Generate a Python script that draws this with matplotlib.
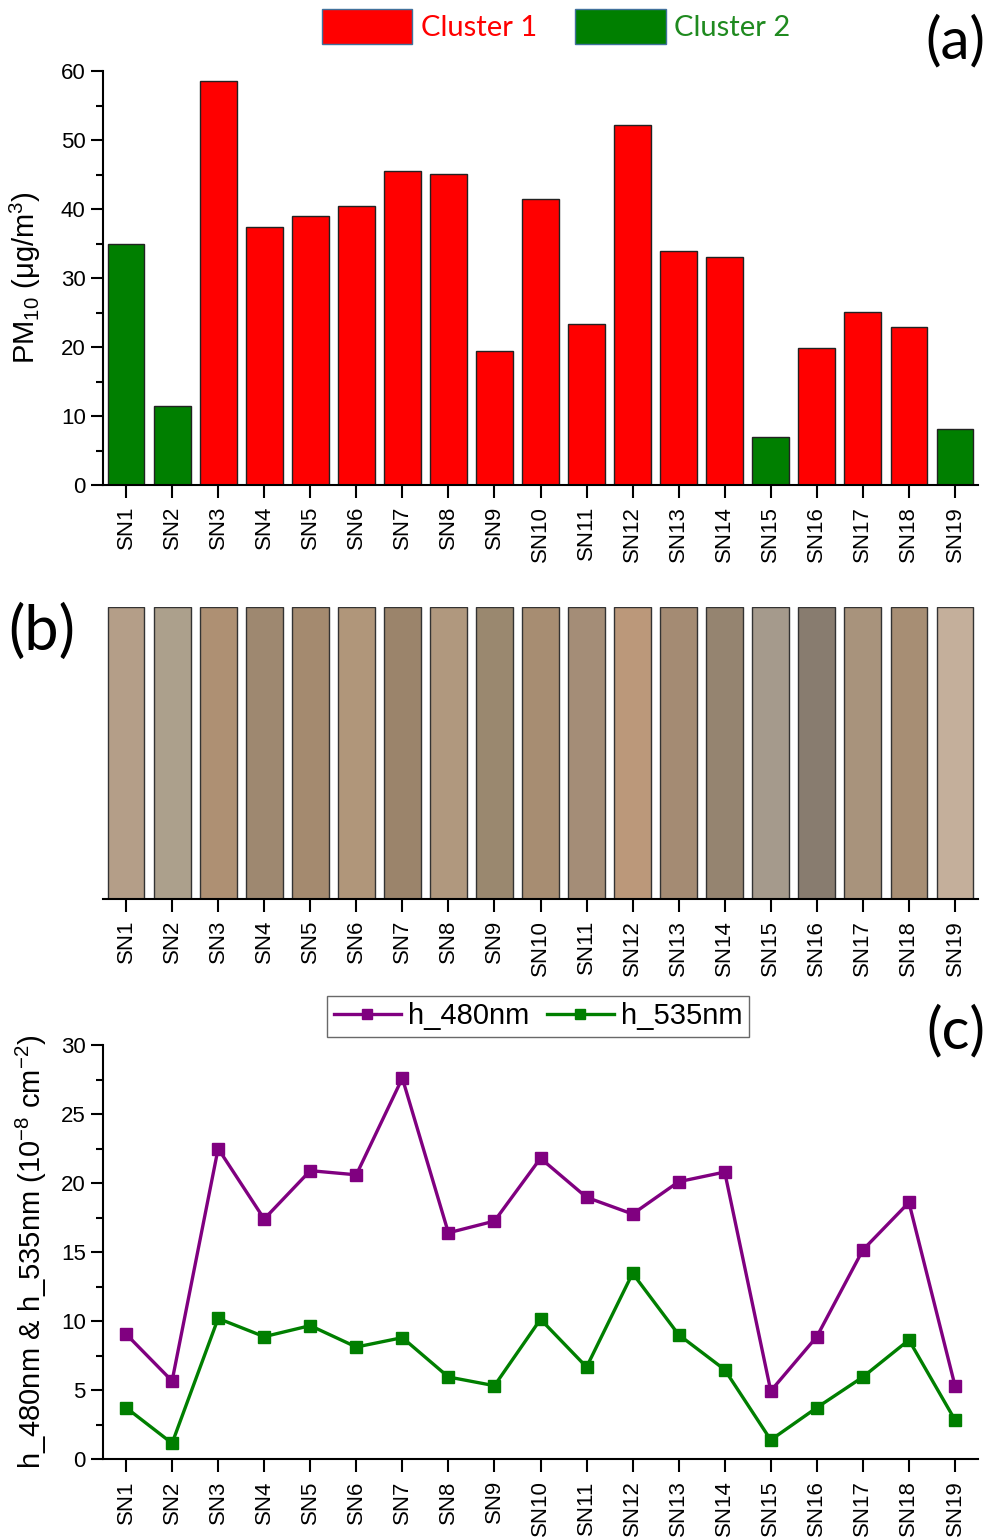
import matplotlib
matplotlib.use("Agg")
import matplotlib.pyplot as plt
from matplotlib.patches import Patch
from matplotlib.lines import Line2D
from matplotlib.ticker import MultipleLocator
import numpy as np

plt.rcParams['font.family'] = ['Liberation Sans', 'DejaVu Sans']
plt.rcParams['mathtext.fontset'] = 'custom'
plt.rcParams['mathtext.rm'] = 'Liberation Sans'
plt.rcParams['mathtext.it'] = 'Liberation Sans:italic'
plt.rcParams['mathtext.bf'] = 'Liberation Sans:bold'

sites = [f"SN{i}" for i in range(1, 20)]
pm10 = [34.9, 11.5, 58.6, 37.4, 39.0, 40.4, 45.5, 45.1, 19.4, 41.4,
        23.3, 52.2, 33.9, 33.0, 6.9, 19.9, 25.1, 22.9, 8.1]
cluster = [2, 2, 1, 1, 1, 1, 1, 1, 1, 1, 1, 1, 1, 1, 2, 1, 1, 1, 2]
filter_colors = ["#b49e88", "#aca08c", "#ae9073", "#9e8870", "#a48a6f", "#b0967a",
                 "#9b846b", "#b0987e", "#9a886f", "#a78d72", "#a48d77", "#bb987a",
                 "#a48b73", "#958470", "#a59a8c", "#887c6f", "#a8937c", "#a78e74",
                 "#c4af9b"]
filter_height = [1] * 19
h480 = [9.07, 5.67, 22.5, 17.4, 20.9, 20.6, 27.6, 16.4, 17.25, 21.8,
        18.97, 17.76, 20.1, 20.8, 4.95, 8.88, 15.16, 18.6, 5.33]
h535 = [3.74, 1.16, 10.2, 8.88, 9.68, 8.13, 8.81, 5.96, 5.33, 10.14,
        6.68, 13.47, 9.02, 6.49, 1.40, 3.74, 5.96, 8.64, 2.85]

cluster_colors = {1: "#ff0000", 2: "#007f00"}
W, H = 986, 1537
fig = plt.figure(figsize=(W / 100, H / 100), dpi=100)

def fx(px):
    return px / W

def fy(py):
    return 1 - py / H

x = np.arange(1, 20)
left_px, right_px = 103, 978

def style_x(ax):
    ax.set_xlim(0.5, 19.5)
    ax.set_xticks(x)
    ax.set_xticklabels(sites, rotation=90, fontsize=16)
    ax.tick_params(axis='x', direction='out', length=9, width=1.5, pad=6)
    for s in ['top', 'right']:
        ax.spines[s].set_visible(False)
    ax.spines['bottom'].set_linewidth(1.5)
    ax.spines['left'].set_linewidth(1.5)

# Panel (a)
axa = fig.add_axes([fx(left_px), fy(485), fx(right_px - left_px), (485 - 71) / H])
axa.bar(x, pm10, width=0.8, color=[cluster_colors[c] for c in cluster],
        edgecolor="#222222", linewidth=1.0)
axa.set_ylim(0, 60)
axa.yaxis.set_major_locator(MultipleLocator(10))
axa.yaxis.set_minor_locator(MultipleLocator(5))
axa.tick_params(axis='y', which='major', direction='out', length=9, width=1.5, labelsize=16)
axa.tick_params(axis='y', which='minor', direction='out', length=5, width=1.5)
style_x(axa)
axa.set_ylabel(r"PM$_{10}$ ($\mathrm{\mu}$g/m$^3$)", fontsize=21)
axa.yaxis.set_label_coords((43 - left_px) / (right_px - left_px), 0.5)

leg_a = fig.legend(handles=[Patch(facecolor="#ff0000", edgecolor="#41719c", linewidth=1),
                            Patch(facecolor="#007f00", edgecolor="#41719c", linewidth=1)],
                   labels=["Cluster 1", "Cluster 2"], ncol=2, loc='upper left',
                   bbox_to_anchor=(fx(319), fy(6)), frameon=False,
                   prop={'family': 'Lato', 'size': 21},
                   handlelength=3.1, handleheight=1.45, handletextpad=0.3,
                   columnspacing=1.3, borderpad=0.1, borderaxespad=0)
for t, c in zip(leg_a.get_texts(), ["#ff0000", "#1f8a1f"]):
    t.set_color(c)

fig.text(fx(985), fy(42), "(a)", fontsize=42, family='Lato', ha='right', va='center')

# Panel (b)
axb = fig.add_axes([fx(left_px), fy(899), fx(right_px - left_px), (899 - 607) / H])
axb.bar(x, filter_height, width=0.8, color=filter_colors, edgecolor="#333333", linewidth=1.0)
axb.set_ylim(0, 1)
axb.set_yticks([])
axb.spines['left'].set_visible(False)
style_x(axb)
fig.text(fx(8), fy(632), "(b)", fontsize=44, family='Lato', ha='left', va='center')

# Panel (c)
axc = fig.add_axes([fx(left_px), fy(1459.3), fx(right_px - left_px), (1459.3 - 1045) / H])
axc.plot(x, h480, color="#800080", marker='s', markersize=8, linewidth=2.4, label="h_480nm")
axc.plot(x, h535, color="#007f00", marker='s', markersize=8, linewidth=2.4, label="h_535nm")
axc.set_ylim(0, 30)
axc.yaxis.set_major_locator(MultipleLocator(5))
axc.yaxis.set_minor_locator(MultipleLocator(2.5))
axc.tick_params(axis='y', which='major', direction='out', length=9, width=1.5, labelsize=16)
axc.tick_params(axis='y', which='minor', direction='out', length=5, width=1.5)
style_x(axc)
axc.set_ylabel(r"h_480nm & h_535nm (10$^{-8}$ cm$^{-2}$)", fontsize=21)
axc.yaxis.set_label_coords((49 - left_px) / (right_px - left_px), 0.5)

leg_c = fig.legend(handles=[Line2D([], [], color="#800080", marker='s', markersize=7, linewidth=2.4),
                            Line2D([], [], color="#007f00", marker='s', markersize=7, linewidth=2.4)],
                   labels=["h_480nm", "h_535nm"], ncol=2, loc='upper center',
                   bbox_to_anchor=(fx(538), fy(996)), frameon=True, fancybox=False,
                   edgecolor="#444444", prop={'size': 21},
                   handlelength=2.3, handletextpad=0.25, columnspacing=0.6,
                   borderpad=0.22, borderaxespad=0)
leg_c.get_frame().set_linewidth(1.0)

fig.text(fx(985), fy(1032), "(c)", fontsize=42, family='Lato', ha='right', va='center')

fig.savefig("out.png", dpi=100)
